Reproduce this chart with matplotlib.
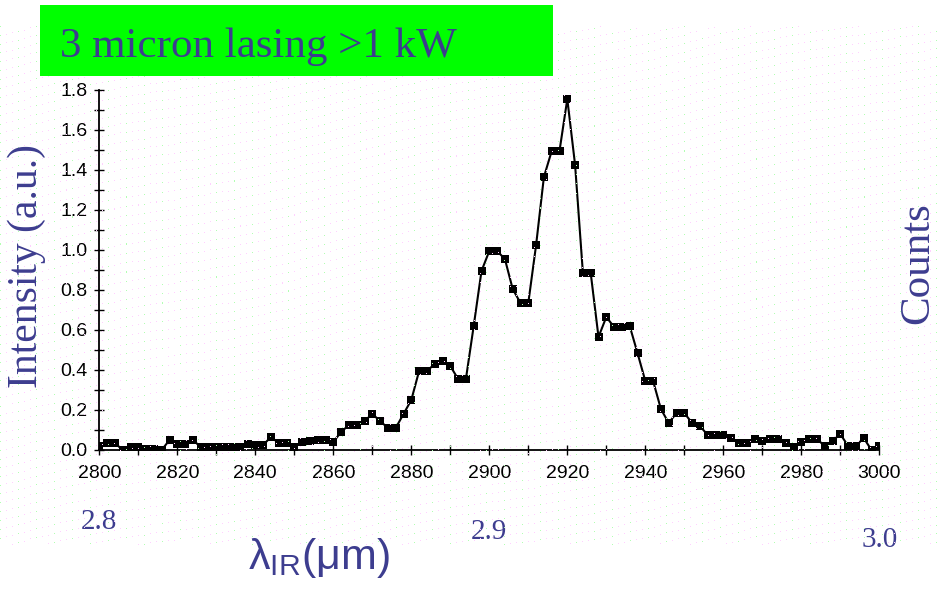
import numpy as np
import matplotlib
matplotlib.use("Agg")
import matplotlib.pyplot as plt
from matplotlib.patches import Rectangle
from matplotlib.ticker import MultipleLocator

# wavelength (nm) and measured intensity (a.u.)
wavelength = [2800, 2802, 2804, 2806, 2808, 2810, 2812, 2814, 2816, 2818,
              2820, 2822, 2824, 2826, 2828, 2830, 2832, 2834, 2836, 2838,
              2840, 2842, 2844, 2846, 2848, 2850, 2852, 2854, 2856, 2858,
              2860, 2862, 2864, 2866, 2868, 2870, 2872, 2874, 2876, 2878,
              2880, 2882, 2884, 2886, 2888, 2890, 2892, 2894, 2896, 2898,
              2900, 2902, 2904, 2906, 2908, 2910, 2912, 2914, 2916, 2918,
              2920, 2922, 2924, 2926, 2928, 2930, 2932, 2934, 2936, 2938,
              2940, 2942, 2944, 2946, 2948, 2950, 2952, 2954, 2956, 2958,
              2960, 2962, 2964, 2966, 2968, 2970, 2972, 2974, 2976, 2978,
              2980, 2982, 2984, 2986, 2988, 2990, 2992, 2994, 2996, 2998,
              3000]
intensity = [0.02, 0.035, 0.035, 0.0, 0.015, 0.015, 0.005, 0.005, 0.0, 0.05,
             0.03, 0.03, 0.05, 0.015, 0.015, 0.015, 0.015, 0.015, 0.015, 0.03,
             0.025, 0.025, 0.065, 0.035, 0.035, 0.015, 0.04, 0.045, 0.05, 0.05,
             0.04, 0.09, 0.125, 0.125, 0.145, 0.18, 0.145, 0.11, 0.11, 0.18,
             0.25, 0.395, 0.395, 0.43, 0.445, 0.42, 0.355, 0.355, 0.62, 0.895,
             0.995, 0.995, 0.955, 0.805, 0.735, 0.735, 1.025, 1.365, 1.495, 1.495,
             1.755, 1.425, 0.885, 0.885, 0.565, 0.665, 0.615, 0.615, 0.62, 0.485,
             0.345, 0.345, 0.205, 0.135, 0.185, 0.185, 0.135, 0.12, 0.075, 0.075,
             0.075, 0.06, 0.035, 0.035, 0.055, 0.045, 0.055, 0.055, 0.035, 0.015,
             0.04, 0.055, 0.055, 0.02, 0.045, 0.08, 0.02, 0.02, 0.06, 0.0,
             0.02]

micron_ticks = [2800, 2900, 3000]
micron_labels = ["2.8", "2.9", "3.0"]

TXT = "#3d3d8f"
W, H = 939, 597

fig = plt.figure(figsize=(W / 100, H / 100), dpi=100, facecolor="white")

# faint dotted backdrop (decoration only)
yy, xx = np.mgrid[0:H, 0:W]
wave = (4 * np.sin(xx / 55.0) + 3 * np.sin(yy / 70.0)).astype(int)
dots = (xx % 6 == 0) & ((yy + xx // 5 + wave) % 9 == 0)
dots &= (yy > 25) & (yy < 545)
green = dots & ((xx // 6) % 3 == 0)
pink = dots & ~green
bg = np.ones((H, W, 4))
bg[..., 3] = 0
bg[pink] = [1.0, 0.82, 1.0, 1.0]
bg[green] = [0.7, 1.0, 0.7, 1.0]
fig.figimage(bg, xo=0, yo=0, origin="upper", zorder=0)

ax = fig.add_axes([99.3 / W, 147 / H, 780 / W, 360 / H])
ax.set_facecolor("none")
ax.plot(wavelength, intensity, color="black", lw=1.5, marker="s",
        markersize=6, markerfacecolor="black", markeredgewidth=0)

ax.set_xlim(2800, 3000)
ax.set_ylim(0, 1.8)
ax.xaxis.set_major_locator(MultipleLocator(20))
ax.xaxis.set_minor_locator(MultipleLocator(10))
ax.yaxis.set_major_locator(MultipleLocator(0.2))
ax.yaxis.set_minor_locator(MultipleLocator(0.1))
ax.yaxis.set_major_formatter(matplotlib.ticker.FormatStrFormatter("%.1f"))
for s in ["top", "right"]:
    ax.spines[s].set_visible(False)
for s in ["left", "bottom"]:
    ax.spines[s].set_linewidth(1.3)
ax.tick_params(which="both", direction="inout", length=7, width=1.0)
ax.tick_params(axis="x", which="major", pad=7)
ax.tick_params(axis="y", which="major", pad=5)
for lab in ax.get_xticklabels() + ax.get_yticklabels():
    lab.set_fontfamily("Liberation Sans")
    lab.set_fontsize(14)

# green title box
fig.patches.append(Rectangle((40 / W, 1 - 76 / H), 513 / W, 71 / H,
                             transform=fig.transFigure, facecolor="#00ff00",
                             edgecolor="none", zorder=1))
fig.text(60 / W, 1 - 57 / H, "3 micron lasing >1 kW", family="Liberation Serif",
         fontsize=31, color=TXT, ha="left", va="baseline", zorder=2)

fig.text(27 / W, 1 - 266 / H, "Intensity (a.u.)", family="Liberation Serif",
         fontsize=30, color=TXT, rotation=90, ha="center", va="center")
fig.text(918 / W, 1 - 263 / H, "Counts", family="Liberation Serif",
         fontsize=31, color=TXT, rotation=90, ha="center", va="center")

# micron scale under the nm axis
tr = matplotlib.transforms.blended_transform_factory(ax.transData, fig.transFigure)
for xv, lab, ypx in zip(micron_ticks, micron_labels, [522, 532, 540]):
    ax.text(xv, 1 - ypx / H, lab, transform=tr, family="Liberation Serif",
            fontsize=21, color=TXT, ha="center", va="center", clip_on=False)

plt.rcParams["mathtext.fontset"] = "custom"
plt.rcParams["mathtext.rm"] = "Liberation Sans"
plt.rcParams["mathtext.it"] = "Liberation Sans"
fig.text(248 / W, 1 - 569 / H, r"$\mathrm{\lambda}_{\mathrm{IR}}$(μm)",
         family="Liberation Sans", fontsize=31, color=TXT,
         ha="left", va="baseline")

fig.savefig("out.png", dpi=100, facecolor="white")
